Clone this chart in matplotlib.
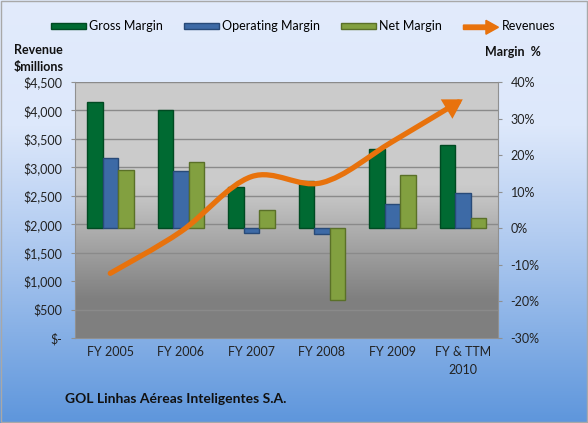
import matplotlib
matplotlib.use("Agg")
import matplotlib.pyplot as plt
import numpy as np
from matplotlib.patches import Patch, FancyArrowPatch, FancyArrow, Rectangle
from matplotlib.path import Path
from matplotlib.colors import LinearSegmentedColormap
from matplotlib.legend_handler import HandlerPatch

# data
years = ['FY 2005', 'FY 2006', 'FY 2007', 'FY 2008', 'FY 2009', 'FY & TTM\n2010']
gross_margin = [34.5, 32.4, 11.2, 13.0, 21.7, 22.9]
operating_margin = [19.2, 15.6, -1.4, -1.5, 6.7, 9.7]
net_margin = [16.0, 18.2, 5.1, -19.6, 14.7, 2.9]
revenues = [1137, 1869, 2836, 2730, 3451, 4196]

rev_ticks = [0, 500, 1000, 1500, 2000, 2500, 3000, 3500, 4000, 4500]
rev_labels = ['$-', '$500', '$1,000', '$1,500', '$2,000', '$2,500', '$3,000',
              '$3,500', '$4,000', '$4,500']
margin_ticks = [-30, -20, -10, 0, 10, 20, 30, 40]

plt.rcParams['font.family'] = ['Lato', 'DejaVu Sans']
plt.rcParams['font.size'] = 9

fig = plt.figure(figsize=(5.88, 4.23), dpi=100)

# figure background gradient
bg = fig.add_axes([0, 0, 1, 1], zorder=-10)
bg_cmap = LinearSegmentedColormap.from_list('bg', [(0, '#5e96dc'), (0.45, '#b4cdf1'), (0.7, '#dde8fb'), (1, '#e2ebfc')])
bg.imshow(np.linspace(0, 1, 256).reshape(-1, 1), cmap=bg_cmap, aspect='auto',
          extent=[0, 1, 0, 1], origin='lower')
bg.axis('off')
fig.patches.append(Rectangle((0.002, 0.002), 0.996, 0.995, transform=fig.transFigure,
                             fill=False, edgecolor='#a8a8a8', lw=1))

ax = fig.add_axes([0.1276, 0.201, 0.7194, 0.605])
x = np.arange(len(years))

# plot area gradient
pa_cmap = LinearSegmentedColormap.from_list('pa', [(0, '#7f7f7f'), (0.15, '#7f7f7f'), (0.55, '#c4c4c4'), (0.6, '#cbcbcb'), (1, '#cbcbcb')])
ax.imshow(np.linspace(0, 1, 256).reshape(-1, 1), cmap=pa_cmap, aspect='auto',
          extent=[0, 1, 0, 1], origin='lower', transform=ax.transAxes, zorder=0)
ax.set_xlim(-0.5, len(years) - 0.5)
ax.set_ylim(0, 4500)
ax.set_yticks(rev_ticks)
ax.set_yticklabels(rev_labels)
for t in rev_ticks[1:]:
    ax.axhline(t, color='#8a8a8a', lw=1, zorder=1)
ax.set_xticks(x)
ax.set_xticklabels(years, color='#222222', linespacing=1.6)
ax.tick_params(axis='x', length=0, pad=6)
ax.tick_params(axis='y', length=3, color='#909090', colors='#222222', pad=6)
for s in ['top', 'right']:
    ax.spines[s].set_visible(False)
ax.spines['left'].set_color('#909090')
ax.spines['bottom'].set_color('#909090')

ax2 = ax.twinx()
ax2.set_ylim(-30, 40)
ax2.set_yticks(margin_ticks)
ax2.set_yticklabels([f'{t}%' for t in margin_ticks])
ax2.tick_params(axis='y', length=3, color='#909090', colors='#222222', pad=6)
for s in ['top', 'left', 'bottom']:
    ax2.spines[s].set_visible(False)
ax2.spines['right'].set_color('#909090')

w = 0.22
ax2.bar(x - w, gross_margin, w, color='#006a32', edgecolor='#004a22', lw=1, zorder=3)
ax2.bar(x, operating_margin, w, color='#3d6aa6', edgecolor='#284a78', lw=1, zorder=3)
ax2.bar(x + w, net_margin, w, color='#82a040', edgecolor='#5a7028', lw=1, zorder=3)

# smoothed revenue line (bezier through the points) with arrow head
pts = np.column_stack([x, revenues]).astype(float)
ext = np.vstack([pts[0], pts, pts[-1]])
verts = [tuple(pts[0])]
codes = [Path.MOVETO]
for i in range(len(pts) - 1):
    p0, p1, p2, p3 = ext[i], ext[i + 1], ext[i + 2], ext[i + 3]
    c1 = p1 + (p2 - p0) / 6
    c2 = p2 - (p3 - p1) / 6
    verts += [tuple(c1), tuple(c2), tuple(p2)]
    codes += [Path.CURVE4] * 3
arrow = FancyArrowPatch(path=Path(verts, codes), arrowstyle='-|>,head_length=1.0,head_width=0.6',
                        mutation_scale=8, color='#e8720c', lw=3.8, transform=ax.transData,
                        zorder=5, capstyle='round', joinstyle='miter')
ax2.add_patch(arrow)


def make_arrow(legend, orig_handle, xdescent, ydescent, width, height, fontsize):
    return FancyArrow(0, height / 2, width, 0, width=3.2, head_width=10, head_length=9,
                      length_includes_head=True, color='#e8720c')


handles = [Patch(facecolor='#006a32', edgecolor='#004a22'),
           Patch(facecolor='#3d6aa6', edgecolor='#284a78'),
           Patch(facecolor='#82a040', edgecolor='#5a7028'),
           Patch(color='#e8720c')]
labels = ['Gross Margin', 'Operating Margin', 'Net Margin', 'Revenues']
fig.legend(handles, labels, loc='center', bbox_to_anchor=(0.515, 0.938), ncol=4,
           frameon=False, handlelength=2.8, handleheight=0.35, handletextpad=0.25,
           columnspacing=1.7, fontsize=9,
           handler_map={handles[3]: HandlerPatch(patch_func=make_arrow)})

fig.text(0.024, 0.862, 'Revenue\n$millions', fontweight='bold', fontsize=9, va='center',
         linespacing=1.5, color='#111111')
fig.text(0.825, 0.878, 'Margin  %', fontweight='bold', fontsize=9, va='center', color='#111111')
fig.text(0.11, 0.057, 'GOL Linhas Aéreas Inteligentes S.A.', fontweight='bold', fontsize=10,
         va='center', color='#111111')

fig.savefig('out.png', dpi=100)
